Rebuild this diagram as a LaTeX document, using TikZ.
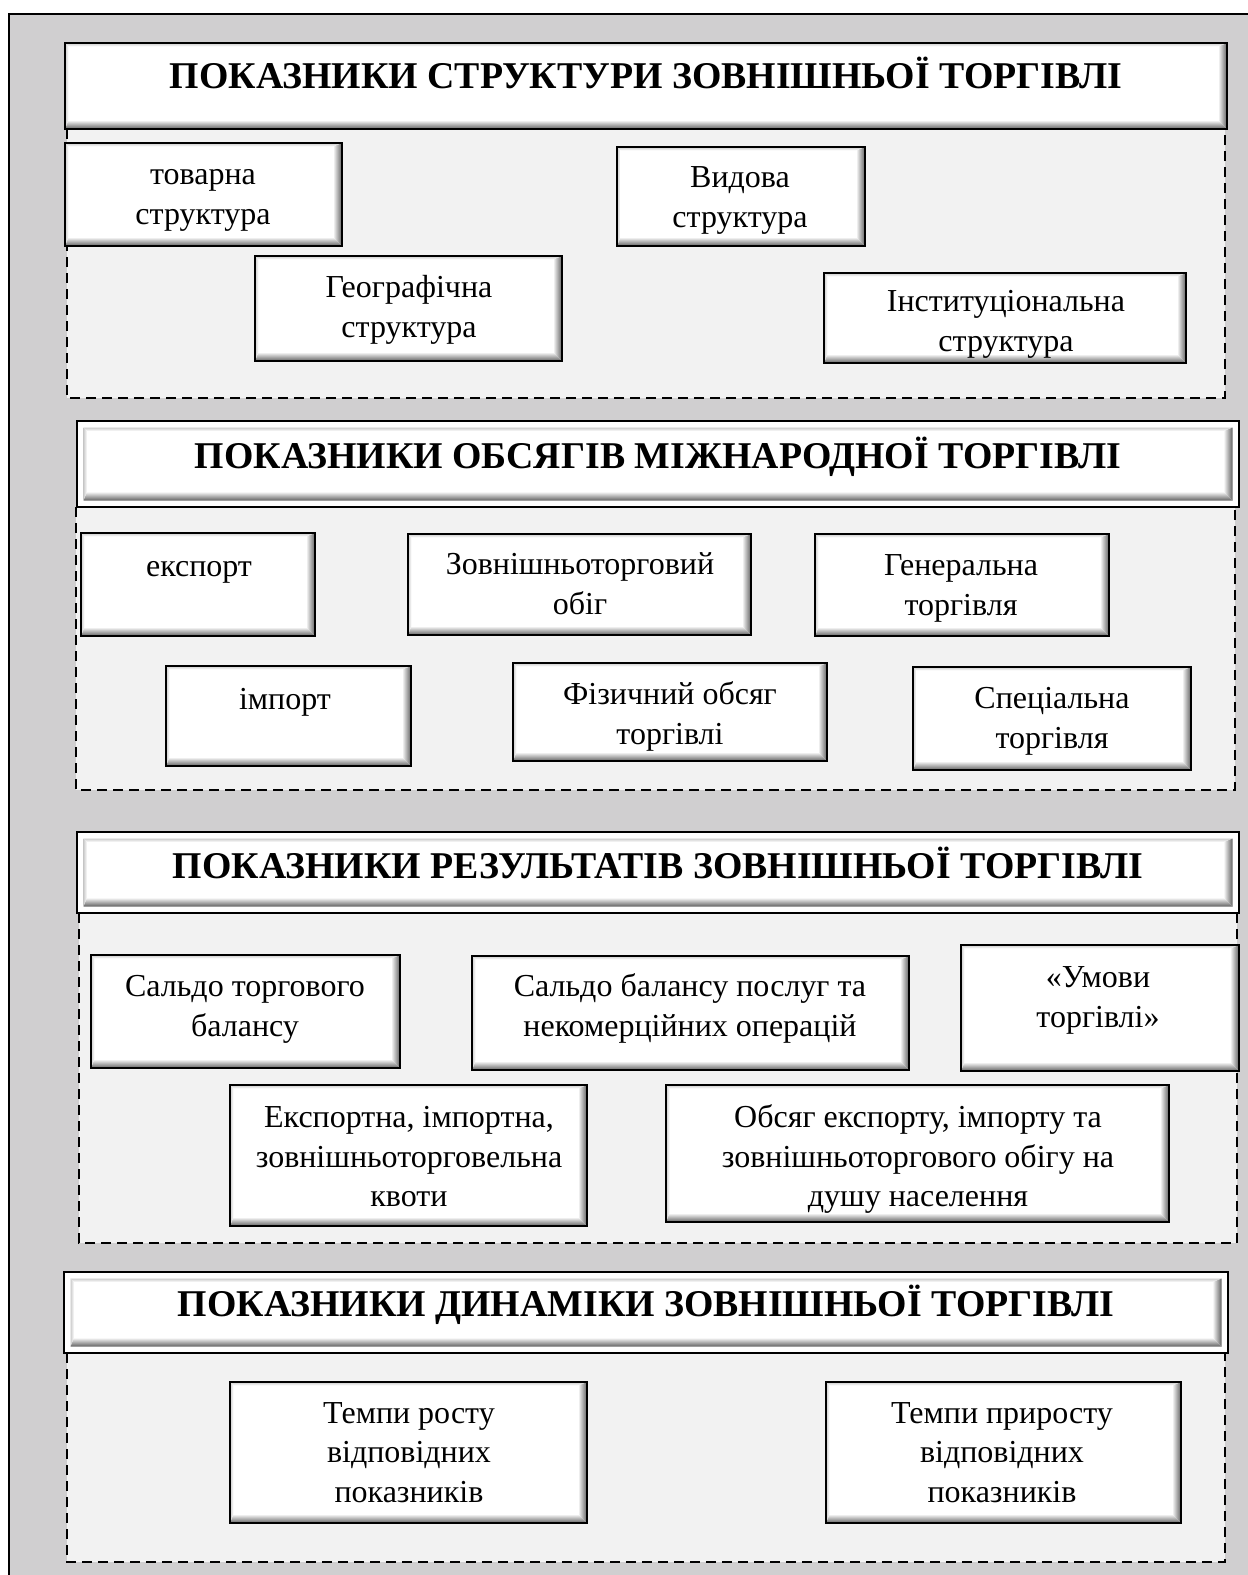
\documentclass[tikz,border=0pt]{standalone}
\usepackage{fontspec}
\setmainfont{Liberation Serif}
\usetikzlibrary{fit}
\definecolor{bgout}{RGB}{208,207,208}
\definecolor{bgin}{RGB}{242,242,242}
\colorlet{bevdark}{black!62}
\colorlet{bevlight}{black!20}
\newcommand\bevelfill[1]{%
  \path (path picture bounding box.south west) ++(#1pt,#1pt) coordinate (bvsw);
  \path (path picture bounding box.north east) ++(-#1pt,-#1pt) coordinate (bvne);
  \path (bvsw -| bvne) coordinate (bvse);
  \path (bvsw |- bvne) coordinate (bvnw);
  \shade[top color=white, bottom color=bevdark] (bvsw) -- (bvse) -- ([shift={(-9pt,9pt)}]bvse) -- ([shift={(3.5pt,9pt)}]bvsw) -- cycle;
  \shade[left color=white, right color=bevdark] (bvse) -- (bvne) -- ([shift={(-9pt,-3.5pt)}]bvne) -- ([shift={(-9pt,9pt)}]bvse) -- cycle;
  \shade[top color=bevlight, bottom color=white] (bvnw) -- (bvne) -- ([shift={(-9pt,-3.5pt)}]bvne) -- ([shift={(3.5pt,-3.5pt)}]bvnw) -- cycle;
  \shade[left color=bevlight, right color=white] (bvnw) -- (bvsw) -- ([shift={(3.5pt,9pt)}]bvsw) -- ([shift={(3.5pt,-3.5pt)}]bvnw) -- cycle;
}
\tikzset{
  bbox/.style={draw=black, line width=2.7pt, fill=white, inner sep=0pt, path picture={\bevelfill{0}}},
  hbox/.style={draw=black, line width=2.7pt, fill=white, inner sep=0pt, path picture={\bevelfill{0}}},
  hboxd/.style={draw=black, line width=2.2pt, fill=white, inner sep=0pt, path picture={\bevelfill{6.5}}},
  region/.style={draw=black, line width=2.5pt, dash pattern=on 10pt off 6pt, fill=bgin},
  btxt/.style={font=\fontsize{32}{39.5}\selectfont, align=center, inner sep=0pt},
  htxt/.style={font=\fontsize{37.8}{42}\selectfont\bfseries, inner sep=0pt, anchor=base},
}
\begin{document}
\begin{tikzpicture}[x=1pt, y=-1pt]
\useasboundingbox (0,0) rectangle (1248,1575);
\clip (0,0) rectangle (1248,1575);
\fill[white] (0,0) rectangle (1248,1575);
\draw[line width=1.8pt, fill=bgout] (9,14) rectangle (1300,1700);

% dashed regions
\draw[region] (67,129) rectangle (1225,398);
\draw[region] (76,507) rectangle (1235,790);
\draw[region] (79,913) rectangle (1237,1243);
\draw[region] (67,1353) rectangle (1225,1562);

% section 1
\node[hbox, fit={(65,43) (1227,129)}] (h1) {};
\node[htxt] (h1t) at (646,88) {ПОКАЗНИКИ СТРУКТУРИ ЗОВНІШНЬОЇ ТОРГІВЛІ};
\node[bbox, fit={(65,143) (342,246)}] (b11) {};
\node[btxt] (t11) at (203,196.5) {\strut товарна\\\strut структура};
\node[bbox, fit={(617,147) (865,246)}] (b12) {};
\node[btxt] (t12) at (740,199.5) {\strut Видова\\\strut структура};
\node[bbox, fit={(255,256) (562,361)}] (b13) {};
\node[btxt] (t13) at (409,309.5) {\strut Географічна\\\strut структура};
\node[bbox, fit={(824,273) (1186,363)}] (b14) {};
\node[btxt] (t14) at (1006,323.5) {\strut Інституціональна\\\strut структура};

% section 2
\node[hboxd, fit={(77,421) (1239,507)}] (h2) {};
\node[htxt] (h2t) at (658,468) {ПОКАЗНИКИ ОБСЯГІВ МІЖНАРОДНОЇ ТОРГІВЛІ};
\node[bbox, fit={(81,533) (315,636)}] (b21) {};
\node[btxt] (t21) at (199,568.5) {\strut експорт};
\node[bbox, fit={(408,534) (751,635)}] (b22) {};
\node[btxt] (t22) at (580,586.5) {\strut Зовнішньоторговий\\\strut обіг};
\node[bbox, fit={(815,534) (1109,636)}] (b23) {};
\node[btxt] (t23) at (961,587.5) {\strut Генеральна\\\strut торгівля};
\node[bbox, fit={(166,666) (411,766)}] (b24) {};
\node[btxt] (t24) at (285,701.5) {\strut імпорт};
\node[bbox, fit={(513,663) (827,761)}] (b25) {};
\node[btxt] (t25) at (670,716.5) {\strut Фізичний обсяг\\\strut торгівлі};
\node[bbox, fit={(913,667) (1191,770)}] (b26) {};
\node[btxt] (t26) at (1052,720.5) {\strut Спеціальна\\\strut торгівля};

% section 3
\node[hboxd, fit={(77,832) (1239,913)}] (h3) {};
\node[htxt] (h3t) at (658,878) {ПОКАЗНИКИ РЕЗУЛЬТАТІВ ЗОВНІШНЬОЇ ТОРГІВЛІ};
\node[bbox, fit={(91,955) (400,1068)}] (b31) {};
\node[btxt] (t31) at (245,1008.5) {\strut Сальдо торгового\\\strut балансу};
\node[bbox, fit={(472,956) (909,1070)}] (b32) {};
\node[btxt] (t32) at (690,1008.5) {\strut Сальдо балансу послуг та\\\strut некомерційних операцій};
\node[bbox, fit={(961,945) (1239,1071)}] (b33) {};
\node[btxt] (t33) at (1098,999.5) {\strut «Умови\\\strut торгівлі»};
\node[bbox, fit={(230,1085) (587,1226)}] (b34) {};
\node[btxt] (t34) at (409,1159.5) {\strut Експортна, імпортна,\\\strut зовнішньоторговельна\\\strut квоти};
\node[bbox, fit={(666,1085) (1169,1222)}] (b35) {};
\node[btxt] (t35) at (918,1159.5) {\strut Обсяг експорту, імпорту та\\\strut зовнішньоторгового обігу на\\\strut душу населення};

% section 4
\node[hboxd, fit={(64,1272) (1228,1353)}] (h4) {};
\node[htxt] (h4t) at (646,1316) {ПОКАЗНИКИ ДИНАМІКИ ЗОВНІШНЬОЇ ТОРГІВЛІ};
\node[bbox, fit={(230,1382) (587,1523)}] (b41) {};
\node[btxt] (t41) at (409,1455) {\strut Темпи росту\\\strut відповідних\\\strut показників};
\node[bbox, fit={(826,1382) (1181,1523)}] (b42) {};
\node[btxt] (t42) at (1002,1455) {\strut Темпи приросту\\\strut відповідних\\\strut показників};
\end{tikzpicture}
\end{document}
